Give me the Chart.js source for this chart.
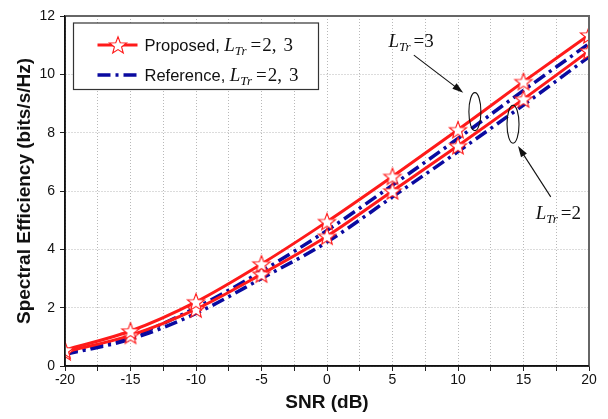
<!DOCTYPE html>
<html lang="en">
<head>
    <meta charset="UTF-8">
    <title>Spectral Efficiency vs SNR</title>
    <script src="https://cdn.jsdelivr.net/npm/chart.js"></script>
    <style>
        html, body { margin: 0; padding: 0; background: #fff; }
        .chart-container { width: 608px; height: 419px; }
    </style>
</head>
<body>
<div class="chart-container">
    <canvas id="seChart" width="608" height="419"></canvas>
</div>

<script>
    // SNR points (dB)
    const snr = [-20, -15, -10, -5, 0, 5, 10, 15, 20];
    // spectral efficiency (bits/s/Hz)
    const proposedL3 = [0.55, 1.2, 2.2, 3.5, 4.95, 6.5, 8.1, 9.75, 11.35];
    const proposedL2 = [0.48, 1.05, 1.95, 3.15, 4.45, 6.0, 7.55, 9.15, 10.8];
    const referenceL3 = [0.45, 1.0, 2.0, 3.25, 4.65, 6.2, 7.8, 9.45, 11.05];
    const referenceL2 = [0.4, 0.92, 1.8, 3.0, 4.25, 5.8, 7.35, 8.95, 10.6];

    const xTickLabels = [-20, -15, -10, -5, 0, 5, 10, 15, 20];
    const yTickLabels = [0, 2, 4, 6, 8, 10, 12];

    const RED = '#ff1a1a';
    const BLUE = '#0a0aa0';
    const BLUE_DASH = [13, 5, 3, 5];
    const SERIF = '"Liberation Serif", "Times New Roman", serif';
    const SANS = '"Liberation Sans", Arial, sans-serif';

    function makeStar(r) {
        const c = document.createElement('canvas');
        const s = Math.ceil(r * 2 + 4);
        c.width = s;
        c.height = s;
        const g = c.getContext('2d');
        g.translate(s / 2, s / 2 + 0.8);
        g.beginPath();
        for (let i = 0; i < 10; i++) {
            const rad = i % 2 === 0 ? r : r * 0.42;
            const a = -Math.PI / 2 + i * Math.PI / 5;
            g.lineTo(rad * Math.cos(a), rad * Math.sin(a));
        }
        g.closePath();
        g.fillStyle = '#fff';
        g.fill();
        g.strokeStyle = RED;
        g.lineWidth = 1.1;
        g.stroke();
        return c;
    }

    const star = makeStar(9);

    function pts(ys) {
        return snr.map((x, i) => ({x, y: ys[i]}));
    }

    // draws text pieces one after another (for L_Tr subscripts)
    function drawRich(ctx, x, y, parts) {
        for (const p of parts) {
            ctx.font = p.font;
            x += p.dx || 0;
            ctx.fillText(p.text, x, y + (p.dy || 0));
            x += ctx.measureText(p.text).width;
        }
    }

    function lTr(value) {
        return [
            {text: 'L', font: 'italic 19px ' + SERIF},
            {text: 'Tr', font: 'italic 13px ' + SERIF, dy: 4},
            {text: '=', font: '19px ' + SERIF, dx: 3},
            {text: value, font: '19px ' + SERIF}
        ];
    }

    const overlay = {
        id: 'overlay',
        afterDraw(chart) {
            const {ctx, chartArea: a, scales: {x, y}} = chart;
            ctx.save();

            // frame
            ctx.strokeStyle = '#666';
            ctx.lineWidth = 2;
            ctx.beginPath();
            ctx.moveTo(a.left, a.top);
            ctx.lineTo(a.right, a.top);
            ctx.lineTo(a.right, a.bottom);
            ctx.stroke();
            ctx.strokeStyle = '#111';
            ctx.lineWidth = 1.5;
            ctx.beginPath();
            ctx.moveTo(a.left, a.top);
            ctx.lineTo(a.left, a.bottom);
            ctx.lineTo(a.right, a.bottom);
            ctx.stroke();

            // legend box
            const lx = a.left + 8.5, ly = a.top + 7;
            ctx.fillStyle = '#fff';
            ctx.fillRect(lx, ly, 245, 66.5);
            ctx.strokeStyle = '#333';
            ctx.lineWidth = 1.2;
            ctx.strokeRect(lx, ly, 245, 66.5);

            const rows = [
                {name: 'Proposed, ', cy: ly + 22},
                {name: 'Reference, ', cy: ly + 52}
            ];
            // proposed sample
            ctx.strokeStyle = RED;
            ctx.lineWidth = 3;
            ctx.beginPath();
            ctx.moveTo(lx + 24, rows[0].cy);
            ctx.lineTo(lx + 64, rows[0].cy);
            ctx.stroke();
            ctx.drawImage(star, lx + 44.5 - star.width / 2, rows[0].cy - star.height / 2);
            // reference sample
            ctx.strokeStyle = BLUE;
            ctx.lineWidth = 3.5;
            ctx.setLineDash(BLUE_DASH);
            ctx.beginPath();
            ctx.moveTo(lx + 24, rows[1].cy);
            ctx.lineTo(lx + 64, rows[1].cy);
            ctx.stroke();
            ctx.setLineDash([]);

            ctx.fillStyle = '#111';
            ctx.textBaseline = 'alphabetic';
            for (const r of rows) {
                drawRich(ctx, lx + 71, r.cy + 6, [
                    {text: r.name, font: '16.5px ' + SANS},
                    {text: 'L', font: 'italic 19px ' + SERIF},
                    {text: 'Tr', font: 'italic 13px ' + SERIF, dy: 4},
                    {text: '=', font: '19px ' + SERIF, dx: 4},
                    {text: '2,', font: '19px ' + SERIF, dx: 1},
                    {text: '3', font: '19px ' + SERIF, dx: 7}
                ]);
            }

            // ellipses marking curve pairs
            ctx.strokeStyle = '#111';
            ctx.lineWidth = 1.1;
            const ellipses = [[11.29, 8.72], [14.2, 8.29]];
            for (const [ex, ey] of ellipses) {
                ctx.beginPath();
                ctx.ellipse(x.getPixelForValue(ex), y.getPixelForValue(ey), 6, 19, 0, 0, Math.PI * 2);
                ctx.stroke();
            }

            // arrows
            const arrows = [[6.63, 10.66, 10.4, 9.37], [17.08, 5.8, 14.58, 7.54]];
            for (const [x0, y0, x1, y1] of arrows) {
                const px0 = x.getPixelForValue(x0), py0 = y.getPixelForValue(y0);
                const px1 = x.getPixelForValue(x1), py1 = y.getPixelForValue(y1);
                const ang = Math.atan2(py1 - py0, px1 - px0);
                ctx.beginPath();
                ctx.moveTo(px0, py0);
                ctx.lineTo(px1 - 6 * Math.cos(ang), py1 - 6 * Math.sin(ang));
                ctx.stroke();
                ctx.beginPath();
                ctx.moveTo(px1, py1);
                ctx.lineTo(px1 - 11 * Math.cos(ang) + 3.5 * Math.sin(ang), py1 - 11 * Math.sin(ang) - 3.5 * Math.cos(ang));
                ctx.lineTo(px1 - 11 * Math.cos(ang) - 3.5 * Math.sin(ang), py1 - 11 * Math.sin(ang) + 3.5 * Math.cos(ang));
                ctx.closePath();
                ctx.fillStyle = '#111';
                ctx.fill();
            }

            // labels
            ctx.fillStyle = '#111';
            drawRich(ctx, x.getPixelForValue(4.69), y.getPixelForValue(10.94), lTr('3'));
            drawRich(ctx, x.getPixelForValue(15.93), y.getPixelForValue(5.04), lTr('2'));

            ctx.restore();
        }
    };

    const redLine = {
        borderColor: RED,
        backgroundColor: RED,
        borderWidth: 3,
        pointStyle: star,
        pointRadius: 9,
        cubicInterpolationMode: 'monotone',
        clip: 0
    };
    const blueLine = {
        borderColor: BLUE,
        backgroundColor: BLUE,
        borderWidth: 3.5,
        borderDash: BLUE_DASH,
        pointRadius: 0,
        cubicInterpolationMode: 'monotone',
        clip: 0
    };

    new Chart(document.getElementById('seChart'), {
        type: 'line',
        data: {
            datasets: [
                {...redLine, label: 'Proposed, L_Tr = 3', data: pts(proposedL3)},
                {...redLine, label: 'Proposed, L_Tr = 2', data: pts(proposedL2)},
                {...blueLine, label: 'Reference, L_Tr = 3', data: pts(referenceL3)},
                {...blueLine, label: 'Reference, L_Tr = 2', data: pts(referenceL2)}
            ]
        },
        options: {
            responsive: false,
            animation: false,
            devicePixelRatio: 1,
            layout: {padding: {top: 16, right: 19, left: 0, bottom: 0}},
            plugins: {
                legend: {display: false},
                tooltip: {enabled: false}
            },
            scales: {
                x: {
                    type: 'linear',
                    min: -20,
                    max: 20,
                    afterFit: s => { s.height = 53; },
                    title: {
                        display: true,
                        text: 'SNR (dB)',
                        color: '#111',
                        font: {family: SANS, size: 19, weight: 'bold'},
                        padding: {top: 0, bottom: 5}
                    },
                    ticks: {
                        stepSize: 2.5,
                        autoSkip: false,
                        maxRotation: 0,
                        padding: 1,
                        color: '#111',
                        font: {family: SANS, size: 14},
                        callback: v => xTickLabels.includes(v) ? String(v) : ''
                    },
                    grid: {
                        color: '#b8b8b8',
                        lineWidth: 1,
                        tickColor: '#222',
                        tickLength: 5,
                        tickBorderDash: []
                    },
                    border: {display: true, color: '#111', width: 1.5, dash: [1, 2]}
                },
                y: {
                    min: 0,
                    max: 12,
                    afterFit: s => { s.width = 65; },
                    title: {
                        display: true,
                        text: 'Spectral Efficiency (bits/s/Hz)',
                        color: '#111',
                        font: {family: SANS, size: 19, weight: 'bold'},
                        padding: {top: 13, bottom: 0}
                    },
                    ticks: {
                        stepSize: 2,
                        padding: 5,
                        color: '#111',
                        font: {family: SANS, size: 14},
                        callback: v => yTickLabels.includes(v) ? String(v) : ''
                    },
                    grid: {
                        color: '#b8b8b8',
                        lineWidth: 1,
                        tickColor: '#222',
                        tickLength: 5,
                        tickBorderDash: []
                    },
                    border: {display: true, color: '#111', width: 1.5, dash: [1, 2]}
                }
            }
        },
        plugins: [overlay]
    });
</script>
</body>
</html>
